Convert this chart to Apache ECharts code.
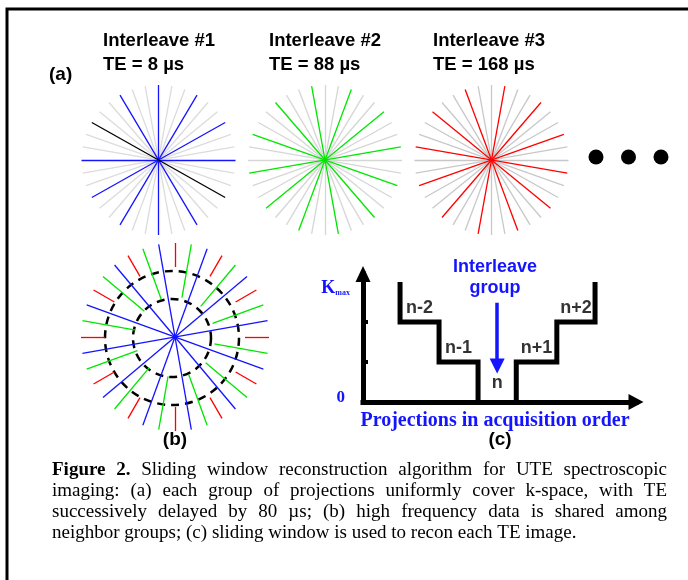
<!DOCTYPE html>
<html><head><meta charset="utf-8">
<script src="https://cdn.jsdelivr.net/npm/echarts@6/dist/echarts.min.js"></script>
<style>html,body{margin:0;padding:0;background:#fff}#c{width:688px;height:580px}</style>
</head><body><div id="c"></div>
<script>
// ---------------- data ----------------
const interleaveTitles = ['Interleave #1', 'Interleave #2', 'Interleave #3'];
const interleaveTE = ['TE = 8 µs', 'TE = 88 µs', 'TE = 168 µs'];
const allSpokeAngles = [0, 10, 20, 30, 40, 50, 60, 70, 80, 90, 100, 110, 120, 130, 140, 150, 160, 170];
const interleave1Angles = [0, 30, 60, 90, 120, 150];
const interleave2Angles = [10, 40, 70, 100, 130, 160];
const interleave3Angles = [20, 50, 80, 110, 140, 170];
const firstProjectionAngle = 150;
const sharedBlueAngles = [10, 40, 70, 100, 130, 160];
const sharedGreenAngles = [20, 50, 80, 110, 140, 170];
const sharedRedAngles = [0, 30, 60, 90, 120, 150];
const groupLabels = ['n-2', 'n-1', 'n', 'n+1', 'n+2'];
const groupLevels = [2, 1, 0, 1, 2];
const groupEdges = [0.95, 1.95, 2.95, 3.93, 4.97, 5.95];
const kMaxLevel = 3;
const captionLines = [
  'Figure 2. Sliding window reconstruction algorithm for UTE spectroscopic',
  'imaging: (a) each group of projections uniformly cover k-space, with TE',
  'successively delayed by 80 µs; (b) high frequency data is shared among',
  'neighbor groups; (c) sliding window is used to recon each TE image.'
];

// ---------------- layout / style ----------------
const BLUE = '#1414ff', GREEN = '#00e600', RED = '#ff0000';
const SANS = '"Liberation Sans", Arial, sans-serif';
const SERIF = '"Liberation Serif", "Times New Roman", serif';
const starCX = [158.5, 325, 491.5], starCY = 160, starRX = 77, starRY = 75;
const greys = ['#dcdcdc', '#d6d6d6', '#c8c8c8'];
const bCX = 175, bCY = 337, bR = 94, bInner = 40, bOuter = 70;
const circCX = 172, circCY = 338, circR1 = 39, circR2 = 67;

const rad = a => a * Math.PI / 180;
function diameter(cx, cy, rx, ry, a) {
  const c = Math.cos(rad(a)), s = Math.sin(rad(a));
  return [[cx - rx * c, cy + ry * s], [cx + rx * c, cy - ry * s]];
}
function ray(cx, cy, r0, r1, a) {
  const c = Math.cos(rad(a)), s = Math.sin(rad(a));
  return [[cx + r0 * c, cy - r0 * s], [cx + r1 * c, cy - r1 * s]];
}

const greyLines = [], colorLines = [];
const starSets = [interleave1Angles, interleave2Angles, interleave3Angles];
const starColors = [BLUE, GREEN, RED];
starCX.forEach((cx, i) => {
  allSpokeAngles.forEach(a => {
    if (starSets[i].indexOf(a) < 0)
      greyLines.push({ coords: diameter(cx, starCY, starRX, starRY, a), lineStyle: { color: greys[i] } });
  });
  starSets[i].forEach(a => {
    const col = (i === 0 && a === firstProjectionAngle) ? '#000' : starColors[i];
    colorLines.push({ coords: diameter(cx, starCY, starRX, starRY, a), lineStyle: { color: col } });
  });
});
// panel (b)
const bLines = [];
sharedRedAngles.forEach(a => { bLines.push({ coords: ray(bCX, bCY, bOuter, bR, a), lineStyle: { color: RED } }); bLines.push({ coords: ray(bCX, bCY, bOuter, bR, a + 180), lineStyle: { color: RED } }); });
sharedGreenAngles.forEach(a => { bLines.push({ coords: ray(bCX, bCY, bInner, bR, a), lineStyle: { color: GREEN } }); bLines.push({ coords: ray(bCX, bCY, bInner, bR, a + 180), lineStyle: { color: GREEN } }); });
sharedBlueAngles.forEach(a => { bLines.push({ coords: diameter(bCX, bCY, bR, bR, a), lineStyle: { color: BLUE } }); });

// panel (c) step curves from group levels
const E = groupEdges, L = groupLevels;
const leftCurve = [[E[0], kMaxLevel], [E[0], L[0]], [E[1], L[0]], [E[1], L[1]], [E[2], L[1]], [E[2], L[2]]];
const rightCurve = [[E[3], L[2]], [E[3], L[3]], [E[4], L[3]], [E[4], L[4]], [E[5], L[4]], [E[5], kMaxLevel]];
const groupCenterN = (E[2] + E[3]) / 2;

// caption layout (justified)
function captionGraphics() {
  const ctx = document.createElement('canvas').getContext('2d');
  const regF = '19px ' + SERIF, boldF = 'bold 19px ' + SERIF;
  const left = 52, right = 667, top = 470, lh = 21;
  const els = [];
  captionLines.forEach((line, li) => {
    const words = line.split(' ');
    const fonts = words.map((w, wi) => (li === 0 && wi < 2) ? boldF : regF);
    const widths = words.map((w, wi) => { ctx.font = fonts[wi]; return ctx.measureText(w).width; });
    const total = widths.reduce((s, v) => s + v, 0);
    ctx.font = regF; const sp = ctx.measureText(' ').width;
    const gap = li < captionLines.length - 1 ? (right - left - total) / (words.length - 1) : sp;
    let x = left;
    words.forEach((w, wi) => {
      els.push({ type: 'text', x: x, y: top + li * lh, silent: true,
        style: { text: w, font: fonts[wi], fill: '#000', verticalAlign: 'middle', textVerticalAlign: 'middle' } });
      x += widths[wi] + gap;
    });
  });
  return els;
}

function txt(x, y, text, size, color, align, family) {
  return { type: 'text', x: x, y: y, silent: true,
    style: { text: text, font: 'bold ' + size + 'px ' + (family || SANS), fill: color || '#000',
      align: align || 'left', textAlign: align || 'left', verticalAlign: 'middle', textVerticalAlign: 'middle' } };
}

const graphics = [
  { type: 'polyline', silent: true, shape: { points: [[7, 600], [7, 9], [700, 9]] }, style: { stroke: '#000', lineWidth: 3, fill: null } },
  txt(49, 75, '(a)', 19),
  txt(175, 440, '(b)', 19, '#000', 'center'),
  txt(500, 440, '(c)', 19, '#000', 'center'),
  { type: 'circle', silent: true, shape: { cx: circCX, cy: circCY, r: circR1 }, style: { stroke: '#000', lineWidth: 2.5, lineDash: [8, 6], fill: null } },
  { type: 'circle', silent: true, shape: { cx: circCX, cy: circCY, r: circR2 }, style: { stroke: '#000', lineWidth: 2.5, lineDash: [8, 6], fill: null } },
  txt(495, 267, 'Interleave', 18, BLUE, 'center'),
  txt(495, 288, 'group', 18, BLUE, 'center')
];
interleaveTitles.forEach((t, i) => {
  const x = [103, 269, 433][i];
  graphics.push(txt(x, 41, t, 18.5));
  graphics.push(txt(x, 65, interleaveTE[i], 18.5));
});
[0, 1, 2].forEach(k => graphics.push({ type: 'circle', silent: true, shape: { cx: 596 + k * 32.5, cy: 157, r: 7.5 }, style: { fill: '#000' } }));
captionGraphics().forEach(g => graphics.push(g));

const chart = echarts.init(document.getElementById('c'), null, { renderer: 'canvas' });
chart.setOption({
  animation: false,
  backgroundColor: '#fff',
  grid: [
    { left: 0, right: 0, top: 0, bottom: 0 },
    { left: 363, top: 274, width: 273, height: 128 }
  ],
  xAxis: [
    { type: 'value', gridIndex: 0, min: 0, max: 688, show: false },
    { type: 'value', gridIndex: 1, min: 0, max: 7,
      axisLine: { show: true, onZero: false, lineStyle: { color: '#000', width: 5, cap: 'square' }, symbol: ['none', 'triangle'], symbolSize: [16, 15] },
      axisTick: { show: false }, axisLabel: { show: false }, splitLine: { show: false },
      name: 'Projections in acquisition order', nameLocation: 'middle', nameGap: 9,
      nameTextStyle: { color: BLUE, fontFamily: SERIF, fontWeight: 'bold', fontSize: 20, padding: [0, 9, 0, 0] } }
  ],
  yAxis: [
    { type: 'value', gridIndex: 0, min: 0, max: 580, inverse: true, show: false },
    { type: 'value', gridIndex: 1, min: 0, max: 3.2, interval: 1,
      axisLine: { show: true, onZero: false, lineStyle: { color: '#000', width: 5, cap: 'square' }, symbol: ['none', 'triangle'], symbolSize: [15, 16] },
      axisTick: { show: true, inside: true, length: 5, lineStyle: { color: '#000', width: 4 }, customValues: [1, 2] },
      axisLabel: { show: true, margin: 13, customValues: [0, kMaxLevel],
        formatter: v => v === 0 ? '{z|0}' : (v === kMaxLevel ? '{k|K}{m|max}' : ''),
        rich: {
          z: { fontFamily: SERIF, fontWeight: 'bold', fontSize: 17, color: BLUE, padding: [0, 5, 8, 0] },
          k: { fontFamily: SERIF, fontWeight: 'bold', fontSize: 18, color: BLUE, padding: [12, 0, 0, 0] },
          m: { fontFamily: SERIF, fontWeight: 'bold', fontSize: 8, color: BLUE, verticalAlign: 'bottom' }
        } },
      splitLine: { show: false } }
  ],
  graphic: graphics,
  series: [
    { type: 'lines', coordinateSystem: 'cartesian2d', xAxisIndex: 0, yAxisIndex: 0, silent: true,
      lineStyle: { width: 1.3, opacity: 1 }, data: greyLines },
    { type: 'lines', coordinateSystem: 'cartesian2d', xAxisIndex: 0, yAxisIndex: 0, silent: true,
      lineStyle: { width: 1.3, opacity: 1 }, data: colorLines },
    { type: 'lines', coordinateSystem: 'cartesian2d', xAxisIndex: 0, yAxisIndex: 0, silent: true,
      lineStyle: { width: 1.3, opacity: 1 }, data: bLines },
    { type: 'scatter', xAxisIndex: 0, yAxisIndex: 0, silent: true, symbolSize: 5,
      itemStyle: { color: BLUE }, data: [[bCX, bCY]] },
    { type: 'line', xAxisIndex: 1, yAxisIndex: 1, silent: true, symbol: 'none',
      lineStyle: { color: '#000', width: 5, join: 'miter', cap: 'butt' }, data: leftCurve },
    { type: 'line', xAxisIndex: 1, yAxisIndex: 1, silent: true, symbol: 'none',
      lineStyle: { color: '#000', width: 5, join: 'miter', cap: 'butt' }, data: rightCurve },
    { type: 'lines', coordinateSystem: 'cartesian2d', xAxisIndex: 1, yAxisIndex: 1, silent: true,
      symbol: ['none', 'triangle'], symbolSize: 15,
      lineStyle: { color: BLUE, width: 3.5, opacity: 1 },
      data: [{ coords: [[groupCenterN, 2.48], [groupCenterN, 0.9]] }] },
    { type: 'scatter', xAxisIndex: 1, yAxisIndex: 1, silent: true, symbolSize: 0,
      label: { show: true, position: 'top', distance: 5, color: '#000', fontFamily: SANS, fontWeight: 'bold', fontSize: 18,
        formatter: p => p.name },
      data: groupLabels.map((g, i) => ({ name: g, value: [(E[i] + E[i + 1]) / 2, L[i]],
        label: L[i] === 0 ? { distance: 10 } : {} })) }
  ]
});
</script></body></html>
